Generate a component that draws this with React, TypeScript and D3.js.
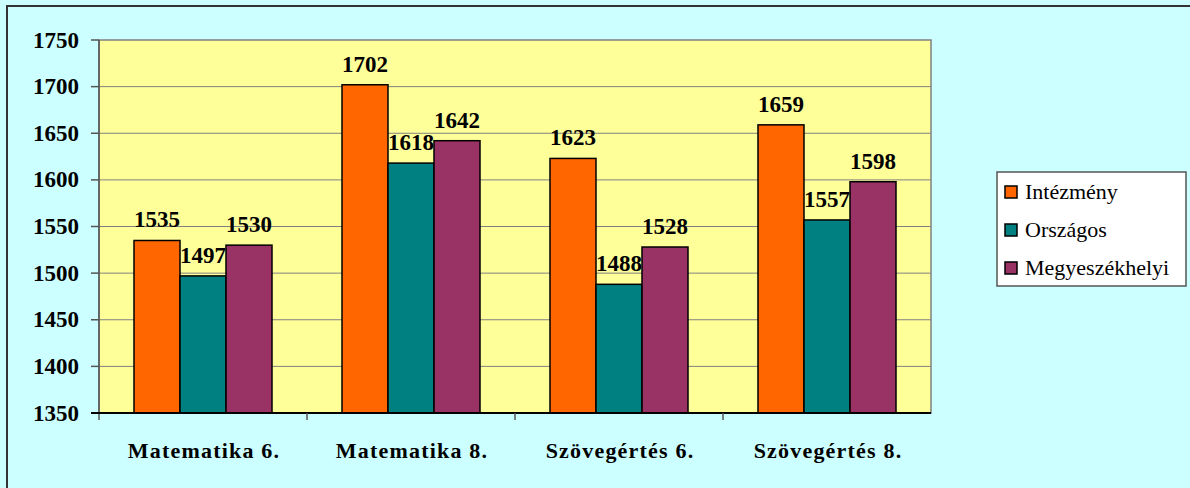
import React, { useEffect, useRef } from 'react'
import * as d3 from 'd3'

const categories = ['Matematika 6.', 'Matematika 8.', 'Szövegértés 6.', 'Szövegértés 8.']
const seriesNames = ['Intézmény', 'Országos', 'Megyeszékhelyi']
const intezmeny = [1535, 1702, 1623, 1659]
const orszagos = [1497, 1618, 1488, 1557]
const megyeszekhelyi = [1530, 1642, 1528, 1598]
const yTicks = [1350, 1400, 1450, 1500, 1550, 1600, 1650, 1700, 1750]
const colors = ['#FF6600', '#008080', '#993366']

export default function App() {
  const svgRef = useRef<SVGSVGElement>(null)
  const width = 1190
  const height = 488

  useEffect(() => {
    if (!svgRef.current) return
    const svg = d3.select(svgRef.current)
    svg.selectAll('*').remove()

    const font = "'Liberation Serif', 'Times New Roman', 'DejaVu Serif', serif"
    const plot = { left: 99, top: 40, right: 931, bottom: 413 }
    const series = [intezmeny, orszagos, megyeszekhelyi]

    // chart background + border
    svg.append('rect')
      .attr('x', 0).attr('y', 0).attr('width', width).attr('height', height)
      .attr('fill', '#CCFFFF')
    svg.append('rect')
      .attr('x', 7).attr('y', 6).attr('width', width + 20).attr('height', height + 20)
      .attr('fill', 'none').attr('stroke', '#333').attr('stroke-width', 2)

    const x = d3.scaleBand<string>().domain(categories).range([plot.left, plot.right])
    const y = d3.scaleLinear().domain([1350, 1750]).range([plot.bottom, plot.top])
    const barW = 46
    const groupOffset = (x.bandwidth() - barW * 3) / 2

    // plot area
    svg.append('rect')
      .attr('x', plot.left).attr('y', plot.top)
      .attr('width', plot.right - plot.left).attr('height', plot.bottom - plot.top)
      .attr('fill', '#FFFF99').attr('stroke', '#808080').attr('stroke-width', 1.5)

    // gridlines
    svg.append('g').selectAll('line').data(yTicks.slice(1, -1)).enter().append('line')
      .attr('x1', plot.left).attr('x2', plot.right)
      .attr('y1', d => y(d)).attr('y2', d => y(d))
      .attr('stroke', '#808080').attr('stroke-width', 1)

    // y axis
    svg.append('line')
      .attr('x1', plot.left).attr('x2', plot.left)
      .attr('y1', plot.top).attr('y2', plot.bottom + 7)
      .attr('stroke', '#555').attr('stroke-width', 1.5)
    const yAxis = svg.append('g')
    yAxis.selectAll('line').data(yTicks).enter().append('line')
      .attr('x1', plot.left - 8).attr('x2', plot.left)
      .attr('y1', d => y(d)).attr('y2', d => y(d))
      .attr('stroke', '#555').attr('stroke-width', 1.5)
    yAxis.selectAll('text').data(yTicks).enter().append('text')
      .attr('x', 79).attr('y', d => y(d) + 7.5)
      .attr('text-anchor', 'end')
      .style('font-family', font).style('font-weight', 'bold').style('font-size', '23px')
      .text(d => d)

    // bars
    series.forEach((vals, si) => {
      const g = svg.append('g')
      g.selectAll('rect').data(vals).enter().append('rect')
        .attr('x', (d, i) => (x(categories[i]) as number) + groupOffset + si * barW)
        .attr('y', d => y(d))
        .attr('width', barW)
        .attr('height', d => plot.bottom - y(d))
        .attr('fill', colors[si])
        .attr('stroke', '#000').attr('stroke-width', 1.5)
      g.selectAll('text').data(vals).enter().append('text')
        .attr('x', (d, i) => (x(categories[i]) as number) + groupOffset + si * barW + barW / 2)
        .attr('y', d => y(d) - 13)
        .attr('text-anchor', 'middle')
        .style('font-family', font).style('font-weight', 'bold').style('font-size', '23px')
        .text(d => d)
    })

    // x axis
    svg.append('line')
      .attr('x1', plot.left - 8).attr('x2', plot.right)
      .attr('y1', plot.bottom).attr('y2', plot.bottom)
      .attr('stroke', '#000').attr('stroke-width', 2)
    svg.append('g').selectAll('line').data(categories.slice(1)).enter().append('line')
      .attr('x1', d => x(d) as number).attr('x2', d => x(d) as number)
      .attr('y1', plot.bottom).attr('y2', plot.bottom + 7)
      .attr('stroke', '#555').attr('stroke-width', 1.5)
    svg.append('g').selectAll('text').data(categories).enter().append('text')
      .attr('x', d => (x(d) as number) + x.bandwidth() / 2 + 1)
      .attr('y', 458)
      .attr('text-anchor', 'middle')
      .style('font-family', font).style('font-weight', 'bold').style('font-size', '22px')
      .style('letter-spacing', '1.2px')
      .text(d => d)

    // legend
    const lg = svg.append('g')
    lg.append('rect')
      .attr('x', 997).attr('y', 172).attr('width', 189).attr('height', 114)
      .attr('fill', '#fff').attr('stroke', '#555').attr('stroke-width', 1.5)
    seriesNames.forEach((name, i) => {
      const cy = 192 + i * 38
      lg.append('rect')
        .attr('x', 1005).attr('y', cy - 6).attr('width', 12).attr('height', 12)
        .attr('fill', colors[i]).attr('stroke', '#000').attr('stroke-width', 1.5)
      lg.append('text')
        .attr('x', 1025).attr('y', cy + 7)
        .style('font-family', font).style('font-size', '22px')
        .text(name)
    })
  }, [])

  return (
    <svg ref={svgRef} width={width} height={height}
      style={{ position: 'absolute', left: 0, top: 0, display: 'block' }} />
  )
}
